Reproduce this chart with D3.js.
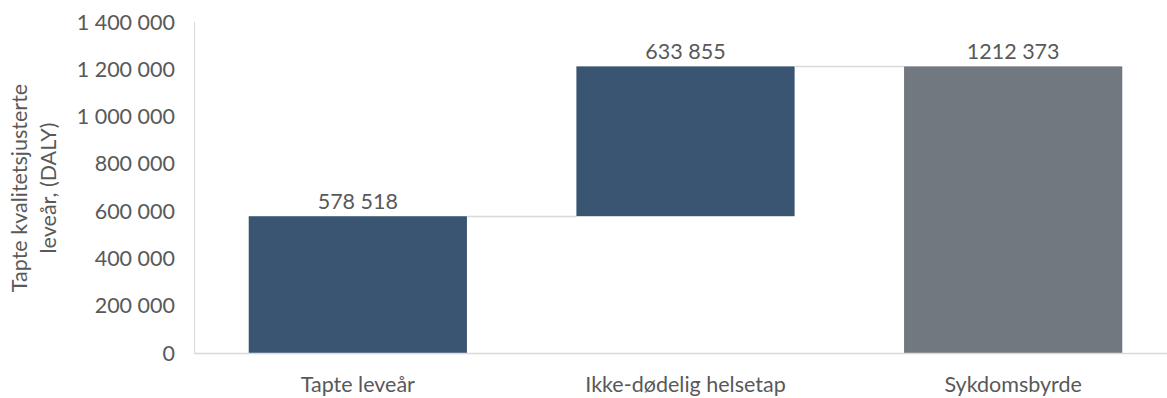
<!DOCTYPE html>
<html><head><meta charset="utf-8">
<script src="https://cdn.jsdelivr.net/npm/d3@7"></script>
<style>body{margin:0;background:#fff}svg{display:block}</style>
</head><body>
<svg id="c" width="1167" height="398"></svg>
<script>
const categories = ["Tapte leveår", "Ikke-dødelig helsetap", "Sykdomsbyrde"];
const values = [578518, 633855, 1212373];
const isTotal = [false, false, true];
const valueLabels = ["578 518", "633 855", "1212 373"];
const yTicks = [0, 200000, 400000, 600000, 800000, 1000000, 1200000, 1400000];
const yTitle = ["Tapte kvalitetsjusterte", "leveår, (DALY)"];

let run = 0;
const bars = categories.map((c, i) => {
  let y0, y1;
  if (isTotal[i]) { y0 = 0; y1 = values[i]; run = values[i]; }
  else { y0 = run; y1 = run + values[i]; run = y1; }
  return {c, y0, y1, total: isTotal[i], label: valueLabels[i]};
});

const svg = d3.select("#c");
const font = "Lato, 'Open Sans', sans-serif";
const fs = "21.5px";
const x = d3.scaleBand().domain(categories).range([194, 1177]).paddingInner(0.334).paddingOuter(0.167);
const y = d3.scaleLinear().domain([0, 1400000]).range([353, 22]);

const fmt = v => d3.format(",")(v).replace(/,/g, " ");

svg.append("line").attr("x1", 194.5).attr("x2", 194.5).attr("y1", y(1400000)).attr("y2", y(0)).attr("stroke", "#d9d9d9").attr("stroke-width", 1);

svg.append("g").selectAll("text").data(yTicks).join("text")
  .attr("x", 175).attr("y", d => y(d)).attr("dy", "0.35em")
  .attr("text-anchor", "end").attr("fill", "#595959")
  .style("font-family", font).style("font-size", fs)
  .text(d => fmt(d));

svg.append("g").selectAll("rect").data(bars).join("rect")
  .attr("x", d => x(d.c)).attr("width", x.bandwidth())
  .attr("y", d => y(d.y1)).attr("height", d => y(d.y0) - y(d.y1))
  .attr("fill", d => d.total ? "#72787f" : "#3a5572");

svg.append("g").selectAll("line").data(bars.slice(0, -1)).join("line")
  .attr("x1", d => x(d.c) + x.bandwidth()).attr("x2", (d, i) => x(bars[i + 1].c))
  .attr("y1", d => Math.round(y(d.y1)) + 0.5).attr("y2", d => Math.round(y(d.y1)) + 0.5)
  .attr("stroke", "#d9d9d9").attr("stroke-width", 1.5);

svg.append("line").attr("x1", 194).attr("x2", 1167).attr("y1", y(0) + 0.5).attr("y2", y(0) + 0.5).attr("stroke", "#d9d9d9").attr("stroke-width", 1.5);

svg.append("g").selectAll("text").data(bars).join("text")
  .attr("x", d => x(d.c) + x.bandwidth() / 2).attr("y", d => y(d.y1) - 7)
  .attr("text-anchor", "middle").attr("fill", "#595959")
  .style("font-family", font).style("font-size", fs)
  .text(d => d.label);

svg.append("g").selectAll("text").data(categories).join("text")
  .attr("x", d => x(d) + x.bandwidth() / 2).attr("y", 392)
  .attr("text-anchor", "middle").attr("fill", "#595959")
  .style("font-family", font).style("font-size", fs)
  .text(d => d);

const t = svg.append("text").attr("transform", "translate(0,188) rotate(-90)")
  .attr("text-anchor", "middle").attr("fill", "#595959")
  .style("font-family", font).style("font-size", fs);
t.selectAll("tspan").data(yTitle).join("tspan").attr("x", 0).attr("y", (d, i) => 27 + i * 29).text(d => d);
</script>
</body></html>
